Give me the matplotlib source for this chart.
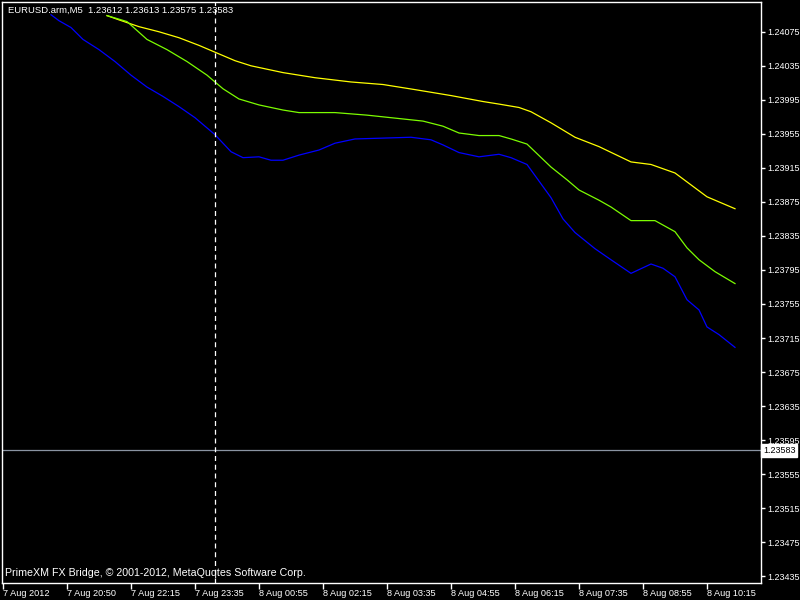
import matplotlib
matplotlib.use("Agg")
import matplotlib.pyplot as plt
import matplotlib.transforms as mtransforms

# ---- data (bar index, price) ----
yellow_bars = [26, 29, 34, 39, 44, 49, 53, 58, 62, 64, 70, 78, 87, 95, 103, 112, 120, 124, 129, 132,
               137, 143, 149, 157, 162, 168, 176, 183]
yellow_vals = [1.24094, 1.24089, 1.24081, 1.24075, 1.24068, 1.24059, 1.24051, 1.24041, 1.24035, 1.24033,
               1.24027, 1.24021, 1.24016, 1.24013, 1.24007, 1.24000, 1.23993, 1.23990, 1.23986, 1.23981,
               1.23968, 1.23951, 1.23940, 1.23922, 1.23919, 1.23909, 1.23881, 1.23867]

green_bars = [26, 31, 36, 41, 46, 51, 53, 55, 59, 64, 70, 74, 83, 91, 99, 105, 110, 114, 119, 124,
              127, 131, 137, 141, 144, 149, 152, 157, 163, 168, 171, 174, 178, 183]
green_vals = [1.24094, 1.24087, 1.24066, 1.24054, 1.24040, 1.24024, 1.24016, 1.24008, 1.23996, 1.23989,
              1.23983, 1.23980, 1.23980, 1.23977, 1.23973, 1.23970, 1.23964, 1.23956, 1.23953, 1.23953,
              1.23949, 1.23943, 1.23916, 1.23901, 1.23889, 1.23877, 1.23869, 1.23853, 1.23853, 1.23840,
              1.23821, 1.23807, 1.23793, 1.23779]

blue_bars = [12, 14, 17, 20, 24, 28, 32, 36, 40, 44, 48, 53, 57, 60, 64, 67, 70, 74, 79, 83, 88, 95,
             102, 107, 110, 114, 119, 124, 127, 131, 137, 140, 143, 148, 152, 157, 162, 165, 168, 171,
             174, 176, 179, 183]
blue_vals = [1.24095, 1.24088, 1.24080, 1.24066, 1.24054, 1.24040, 1.24024, 1.24010, 1.23999, 1.23987,
             1.23974, 1.23954, 1.23934, 1.23927, 1.23928, 1.23924, 1.23924, 1.23930, 1.23936, 1.23944,
             1.23949, 1.23950, 1.23951, 1.23948, 1.23942, 1.23933, 1.23928, 1.23931, 1.23927, 1.23919,
             1.23880, 1.23855, 1.23839, 1.23820, 1.23807, 1.23791, 1.23802, 1.23797, 1.23787, 1.23760,
             1.23748, 1.23728, 1.23719, 1.23704]

price_ticks = [1.24075, 1.24035, 1.23995, 1.23955, 1.23915, 1.23875, 1.23835, 1.23795, 1.23755,
               1.23715, 1.23675, 1.23635, 1.23595, 1.23555, 1.23515, 1.23475, 1.23435]
time_tick_bars = [0, 16, 32, 48, 64, 80, 96, 112, 128, 144, 160, 176]
time_labels = ["7 Aug 2012", "7 Aug 20:50", "7 Aug 22:15", "7 Aug 23:35", "8 Aug 00:55", "8 Aug 02:15",
               "8 Aug 03:35", "8 Aug 04:55", "8 Aug 06:15", "8 Aug 07:35", "8 Aug 08:55", "8 Aug 10:15"]

current_price = 1.23583
cursor_bar = 53
title = "EURUSD.arm,M5  1.23612 1.23613 1.23575 1.23583"
footer = "PrimeXM FX Bridge, \u00a9 2001-2012, MetaQuqtes Software Corp."

FONT = "Liberation Sans"

fig = plt.figure(figsize=(8, 6), dpi=100, facecolor="black")
ax = fig.add_axes([2 / 800, 17 / 600, 759 / 800, 581 / 600], facecolor="black")

lw = 0.9
ax.plot(yellow_bars, yellow_vals, color="#FFFF00", lw=lw)
ax.plot(green_bars, green_vals, color="#7CFC00", lw=lw)
ax.plot(blue_bars, blue_vals, color="#0000FF", lw=lw)

ax.axhline(current_price, color="#8A94A2", lw=0.9)
ax.axvline(cursor_bar, color="white", lw=0.9, ls=(0, (4, 3)))

ax.set_xlim(-0.25, 189.5)
ax.set_ylim(1.23427, 1.24110)

for s in ax.spines.values():
    s.set_color("white")
    s.set_linewidth(1)

ax.yaxis.tick_right()
ax.set_yticks(price_ticks)
ax.set_yticklabels([f"{v:.5f}" for v in price_ticks], fontfamily=FONT, fontsize=6.5, color="white")
ax.tick_params(axis="y", colors="white", length=3, width=1, pad=1.2)

ax.set_xticks(time_tick_bars)
ax.set_xticklabels(time_labels, fontfamily=FONT, fontsize=6.6, color="white", ha="left")
ax.tick_params(axis="x", colors="white", length=4, width=1, pad=0.5)

trans = mtransforms.blended_transform_factory(ax.transAxes, ax.transData)
ax.text(1.0025, current_price, f"{current_price:.5f}", transform=trans, ha="left", va="center",
        fontfamily=FONT, fontsize=6.5, color="black",
        bbox=dict(boxstyle="square,pad=0.2", fc="white", ec="white"))

ax.text(0.008, 0.985, title, transform=ax.transAxes, ha="left", va="center",
        fontfamily=FONT, fontsize=6.8, color="white")
ax.text(0.004, 0.017, footer, transform=ax.transAxes, ha="left", va="center",
        fontfamily=FONT, fontsize=7.7, color="white")

fig.savefig("out.png", dpi=100, facecolor="black")
